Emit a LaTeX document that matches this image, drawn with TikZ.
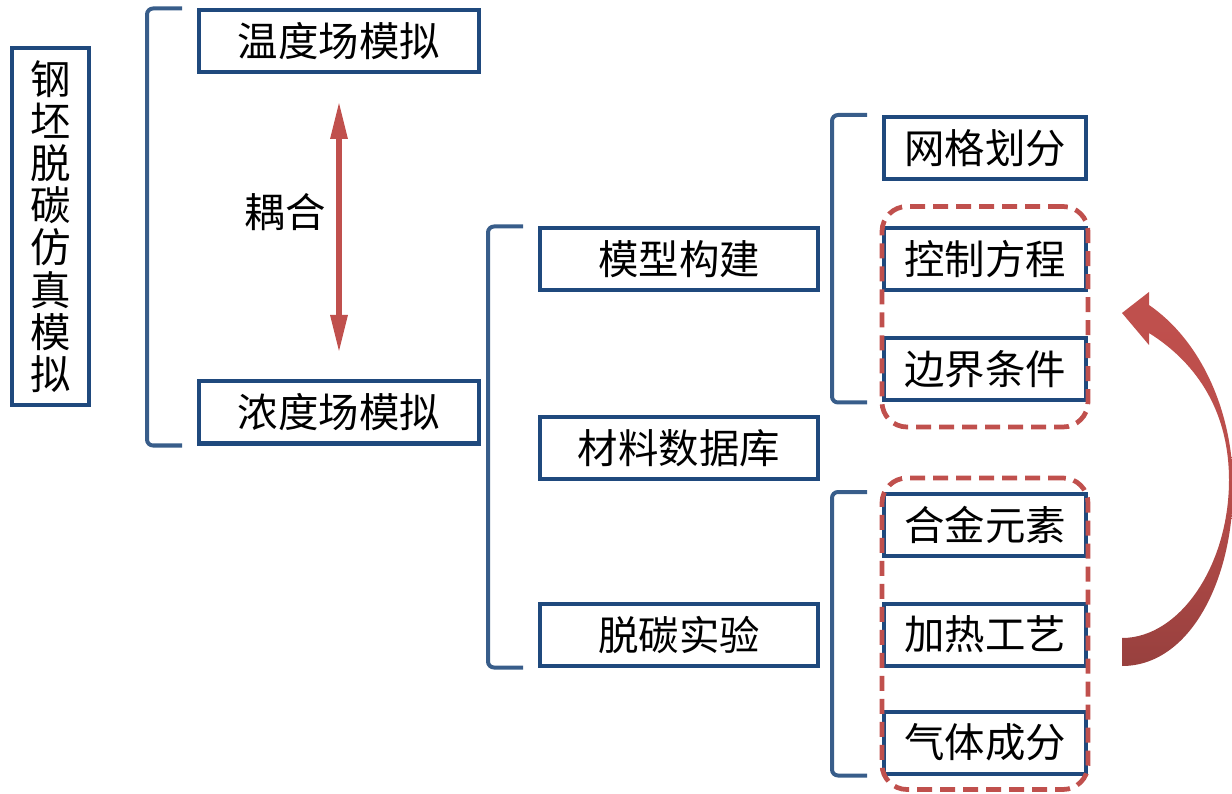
\documentclass[tikz,border=0pt]{standalone}
\usepackage{fontspec}
\newfontfamily\cjk{Noto Sans CJK SC}
\usetikzlibrary{arrows.meta, fit}
\definecolor{boxblue}{HTML}{1F497D}
\definecolor{brkblue}{HTML}{385D8A}
\definecolor{grpred}{HTML}{C0504D}
\definecolor{darkred}{HTML}{98403E}

\begin{document}
\begin{tikzpicture}[box/.style = {draw=boxblue, line width=0.08cm, minimum height=1.24cm, inner sep=0pt, font=\cjk\fontsize{23}{24}\selectfont},
    brk/.style = {draw=brkblue, line width=0.08cm, rounded corners=0.12cm},
    grp/.style = {draw=grpred, line width=0.095cm, dash pattern=on 0.3cm off 0.16cm, rounded corners=0.5cm, inner xsep=0pt}]
        \useasboundingbox (0,0) rectangle (24.64,-15.88);
        \node[box, minimum width=1.54cm, minimum height=7.14cm, align=center] (title) at (1.01,-4.53) {钢\\坯\\脱\\碳\\仿\\真\\模\\拟};
        \node[box, minimum width=5.6cm] (wendu) at (6.78,-0.83) {温度场模拟};
        \node[box, minimum width=5.6cm] (nongdu) at (6.78,-8.25) {浓度场模拟};
        \node[box, minimum width=5.56cm] (moxing) at (13.58,-5.19) {模型构建};
        \node[box, minimum width=5.56cm] (cailiao) at (13.58,-8.96) {材料数据库};
        \node[box, minimum width=5.56cm] (tuotan) at (13.58,-12.69) {脱碳实验};
        \node[box, minimum width=4.04cm] (wangge) at (19.7,-2.96) {网格划分};
        \node[box, minimum width=4.04cm] (kongzhi) at (19.7,-5.18) {控制方程};
        \node[box, minimum width=4.04cm] (bianjie) at (19.7,-7.39) {边界条件};
        \node[box, minimum width=4.04cm] (hejin) at (19.7,-10.5) {合金元素};
        \node[box, minimum width=4.04cm] (jiare) at (19.7,-12.69) {加热工艺};
        \node[box, minimum width=4.04cm] (qiti) at (19.7,-14.85) {气体成分};
        \node[font=\cjk\fontsize{23}{24}\selectfont] (ouhe) at (5.7,-4.24) {耦合};
        % brackets
        \draw[brk] ([xshift=-0.3cm]wendu.north west) -| ([xshift=-1cm]nongdu.south west) -- ([xshift=-0.3cm]nongdu.south west);
        \draw[brk] ([xshift=-0.3cm]moxing.north west) -| ([xshift=-1cm]tuotan.south west) -- ([xshift=-0.3cm]tuotan.south west);
        \draw[brk] ([xshift=-0.3cm]wangge.north west) -| ([xshift=-1cm]bianjie.south west) -- ([xshift=-0.3cm]bianjie.south west);
        \draw[brk] ([xshift=-0.3cm]hejin.north west) -| ([xshift=-1cm]qiti.south west) -- ([xshift=-0.3cm]qiti.south west);
        % coupling
        \draw [{Triangle[width=0.32cm, length=0.76cm]}-{Triangle[width=0.32cm, length=0.76cm]}, draw=grpred, fill=grpred, line width=0.12cm, shorten >=0.53cm, shorten <=0.53cm] (wendu) -- (nongdu);
        % dashed groups
        \node[grp, fit=(kongzhi)(bianjie), inner ysep=0.44cm, yshift=-0.05cm] (grpa) {};
        \node[grp, fit=(hejin)(qiti), inner ysep=0.28cm] (grpb) {};
        % curved arrow
        \shade[top color=grpred, bottom color=darkred, middle color=grpred!85!darkred]
            (22.44,-12.76) .. controls (23.6,-12.76) and (24.58,-11.3) .. (24.58,-9.6)
            .. controls (24.58,-8.3) and (24.0,-7.3) .. (22.98,-6.66)
            -- (22.98,-6.9) -- (22.44,-6.26) -- (22.98,-5.84) -- (22.98,-6.1)
            .. controls (24.0,-6.8) and (24.66,-8.2) .. (24.66,-9.74)
            .. controls (24.66,-11.6) and (23.8,-13.32) .. (22.44,-13.32) -- cycle;
    \end{tikzpicture}
\end{document}
